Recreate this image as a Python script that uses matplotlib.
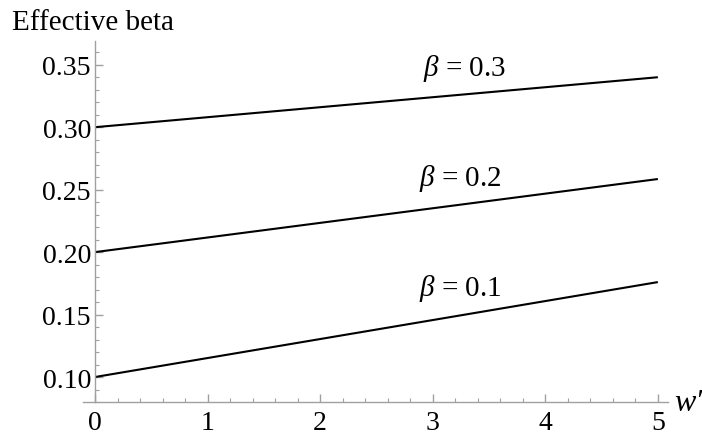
import matplotlib
matplotlib.use("Agg")
import matplotlib.pyplot as plt
from matplotlib.ticker import MultipleLocator, FormatStrFormatter

plt.rcParams['font.family'] = ['Liberation Serif', 'DejaVu Serif']
plt.rcParams['mathtext.fontset'] = 'custom'
plt.rcParams['mathtext.rm'] = 'Liberation Serif'
plt.rcParams['mathtext.it'] = 'Liberation Serif:italic'

# Data
w_vals = [0, 5]
beta_01 = [0.100, 0.176]
beta_02 = [0.200, 0.2585]
beta_03 = [0.300, 0.340]
series = [beta_01, beta_02, beta_03]
labels = [r'$\beta$ = 0.1', r'$\beta$ = 0.2', r'$\beta$ = 0.3']
label_x = [2.88, 2.88, 2.91]
label_y = [0.172, 0.260, 0.348]
xticks = [0, 1, 2, 3, 4, 5]
yticks = [0.10, 0.15, 0.20, 0.25, 0.30, 0.35]

fig = plt.figure(figsize=(7.02, 4.35), dpi=100)
ax = fig.add_axes([83/702, 1 - 403/435, (668-83)/702, (403-42)/435])

for s in series:
    ax.plot(w_vals, s, color='black', lw=1.5, solid_capstyle='butt')
for lx, ly, lab in zip(label_x, label_y, labels):
    ax.text(lx, ly, lab, fontsize=21, ha='left', va='center')

ax.set_xlim(-0.107, 5.09)
ax.set_ylim(0.08, 0.369)

axc = '#a0a0a0'
for sp in ['top', 'right']:
    ax.spines[sp].set_visible(False)
ax.spines['left'].set_position(('data', 0))
ax.spines['left'].set_color(axc)
ax.spines['bottom'].set_color(axc)
ax.spines['left'].set_linewidth(1.0)
ax.spines['bottom'].set_linewidth(1.0)

ax.set_xticks(xticks)
ax.set_yticks(yticks)
ax.yaxis.set_major_formatter(FormatStrFormatter('%.2f'))
ax.xaxis.set_minor_locator(MultipleLocator(0.2))
ax.yaxis.set_minor_locator(MultipleLocator(0.01))
ax.tick_params(axis='both', which='major', direction='in', length=6, width=1.0,
               color=axc, labelsize=20, labelcolor='black')
ax.tick_params(axis='both', which='minor', direction='in', length=3, width=0.8, color=axc)
ax.tick_params(axis='x', which='major', pad=6)
ax.tick_params(axis='y', which='major', pad=3)

fig.text(12/702, 1 - 23/435, 'Effective beta', fontsize=21, ha='left', va='center')
fig.text(674/702, 1 - 404/435, "w\u2032", fontsize=23, fontstyle='italic',
         ha='left', va='center')

fig.savefig('out.png', dpi=100)
